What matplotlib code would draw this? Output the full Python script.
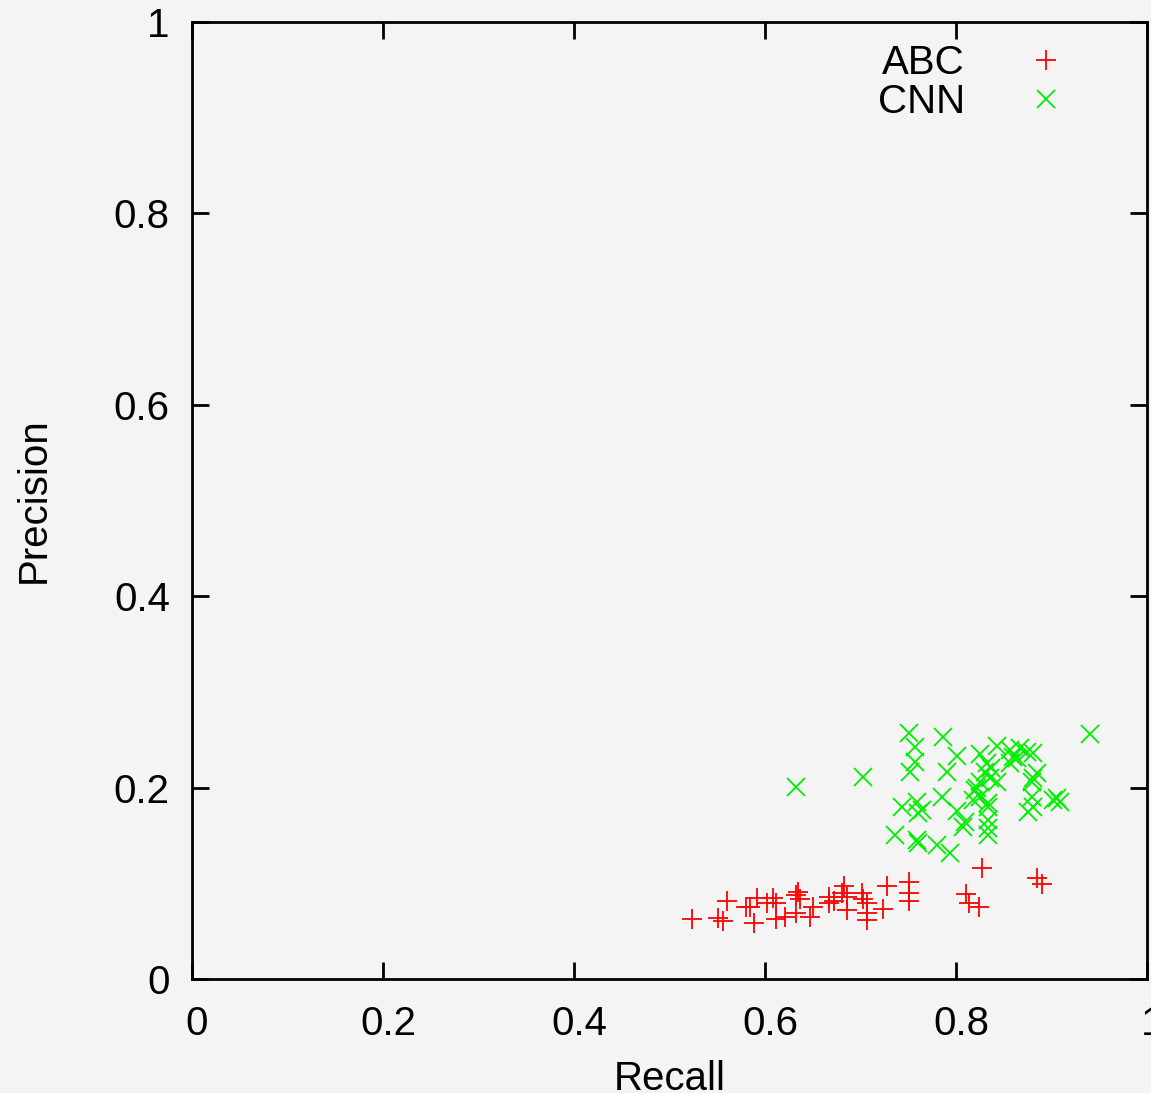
import matplotlib
matplotlib.use("Agg")
import matplotlib.pyplot as plt
from matplotlib.transforms import ScaledTranslation

abc_recall = [0.524, 0.551, 0.556, 0.560, 0.580, 0.584, 0.589, 0.592, 0.602, 0.608,
              0.612, 0.612, 0.621, 0.633, 0.635, 0.633, 0.637, 0.647, 0.650, 0.667,
              0.667, 0.672, 0.683, 0.681, 0.686, 0.686, 0.702, 0.703, 0.707, 0.707,
              0.707, 0.724, 0.728, 0.751, 0.751, 0.751, 0.811, 0.814, 0.824, 0.827,
              0.885, 0.890]
abc_precision = [0.063, 0.064, 0.061, 0.082, 0.075, 0.075, 0.059, 0.085, 0.079, 0.085,
                 0.079, 0.063, 0.065, 0.088, 0.091, 0.069, 0.084, 0.065, 0.075, 0.086,
                 0.079, 0.081, 0.097, 0.090, 0.086, 0.072, 0.090, 0.084, 0.079, 0.069,
                 0.062, 0.073, 0.097, 0.101, 0.090, 0.081, 0.089, 0.079, 0.075, 0.116,
                 0.106, 0.099]

cnn_recall = [0.751, 0.786, 0.940, 0.757, 0.801, 0.703, 0.632, 0.752, 0.757, 0.791,
              0.825, 0.843, 0.857, 0.867, 0.874, 0.881, 0.860, 0.857, 0.832, 0.837,
              0.830, 0.836, 0.843, 0.825, 0.822, 0.820, 0.864, 0.881, 0.885, 0.880,
              0.785, 0.818, 0.743, 0.759, 0.764, 0.760, 0.801, 0.834, 0.875, 0.881,
              0.906, 0.909, 0.902, 0.880, 0.807, 0.834, 0.834, 0.834, 0.809, 0.736,
              0.759, 0.760, 0.780, 0.794, 0.825, 0.834]
cnn_precision = [0.257, 0.253, 0.256, 0.242, 0.233, 0.211, 0.201, 0.216, 0.227, 0.216,
                 0.235, 0.243, 0.239, 0.241, 0.237, 0.236, 0.232, 0.226, 0.226, 0.220,
                 0.216, 0.210, 0.206, 0.206, 0.200, 0.197, 0.231, 0.210, 0.215, 0.206,
                 0.190, 0.187, 0.180, 0.185, 0.177, 0.173, 0.176, 0.180, 0.175, 0.180,
                 0.189, 0.185, 0.187, 0.190, 0.159, 0.166, 0.158, 0.150, 0.164, 0.150,
                 0.145, 0.142, 0.140, 0.132, 0.190, 0.184]

x_ticks = [0, 0.2, 0.4, 0.6, 0.8, 1]
x_tick_labels = ["0", "0.2", "0.4", "0.6", "0.8", "1"]
y_ticks = [0, 0.2, 0.4, 0.6, 0.8, 1]
y_tick_labels = ["0", "0.2", "0.4", "0.6", "0.8", "1"]

plt.rcParams['font.family'] = ['Liberation Sans', 'DejaVu Sans']

bg = '#f4f4f4'
fs = 29
fig = plt.figure(figsize=(11.51, 10.93), dpi=100, facecolor=bg)
ax = fig.add_axes([0.1668, 0.1043, 0.8297, 0.8756])
ax.set_facecolor(bg)

ax.plot(abc_recall, abc_precision, linestyle='none', marker='+', markersize=14,
        markeredgewidth=1.3, color='#ff0000', label='ABC')
ax.plot(cnn_recall, cnn_precision, linestyle='none', marker='x', markersize=13,
        markeredgewidth=1.3, color='#00ee00', label='CNN')

ax.set_xlim(0, 1)
ax.set_ylim(0, 1)
ax.set_xticks(x_ticks)
ax.set_xticklabels(x_tick_labels)
ax.set_yticks(y_ticks)
ax.set_yticklabels(y_tick_labels)
ax.tick_params(direction='in', length=12, width=2, labelsize=fs, top=True, right=True)
ax.tick_params(axis='x', pad=19)
ax.tick_params(axis='y', pad=16)
offset = ScaledTranslation(5 / 100, 0, fig.dpi_scale_trans)
for lbl in ax.get_xticklabels():
    lbl.set_transform(lbl.get_transform() + offset)
for s in ax.spines.values():
    s.set_linewidth(2)

ax.set_xlabel('Recall', fontsize=fs, labelpad=12)
ax.set_ylabel('Precision', fontsize=fs, labelpad=44)

leg = ax.legend(loc='upper right', bbox_to_anchor=(0.915, 0.9765), frameon=False,
                markerfirst=False, fontsize=fs, handletextpad=1.5, handlelength=1.0,
                labelspacing=0.02, borderaxespad=0.0, borderpad=0.0)

fig.savefig('out.png', dpi=100, facecolor=bg)
